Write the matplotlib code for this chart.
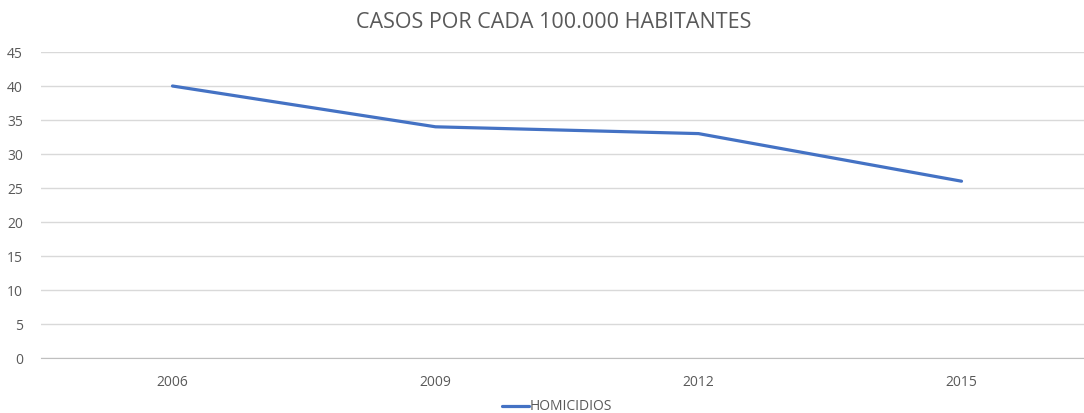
import matplotlib
matplotlib.use("Agg")
import matplotlib.pyplot as plt

# data
years = ["2006", "2009", "2012", "2015"]
homicidios = [40, 34, 33, 26]
y_ticks = [0, 5, 10, 15, 20, 25, 30, 35, 40, 45]

plt.rcParams['font.family'] = ['Open Sans', 'DejaVu Sans']
grey = "#595959"

fig = plt.figure(figsize=(10.84, 4.13), dpi=100)
ax = fig.add_axes([41 / 1084, 55 / 413, 1052 / 1084, 306 / 413])

x = list(range(len(years)))
line, = ax.plot(x, homicidios, color="#4472C4", linewidth=2.3,
                solid_capstyle="round", label="HOMICIDIOS", zorder=3)

ax.set_xlim(-0.5, len(years) - 0.5)
ax.set_ylim(0, 45)
ax.set_yticks(y_ticks)
ax.set_xticks(x)
ax.set_xticklabels(years)

ax.grid(axis="y", color="#d9d9d9", linewidth=1)
ax.set_axisbelow(True)
for s in ["top", "right", "left"]:
    ax.spines[s].set_visible(False)
ax.spines["bottom"].set_color("#bfbfbf")
ax.tick_params(length=0, colors=grey, labelsize=10)
ax.tick_params(axis="x", pad=12)
ax.tick_params(axis="y", pad=13)

fig.text(554 / 1084, 1 - 22 / 413, "CASOS POR CADA 100.000 HABITANTES", ha="center", va="center",
         fontsize=15.5, color=grey)

fig.legend(handles=[line], loc="center", bbox_to_anchor=(557 / 1084, 1 - 407 / 413),
           frameon=False, fontsize=10, labelcolor=grey, handlelength=1.9,
           handletextpad=0.05)

fig.savefig("out.png", dpi=100, facecolor="white")
